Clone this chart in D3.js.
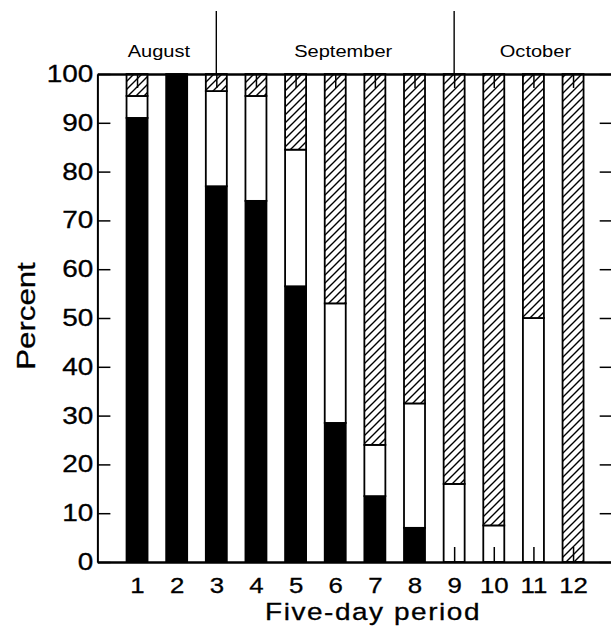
<!DOCTYPE html>
<html lang="en">
<head>
<meta charset="utf-8">
<style>
  body { margin: 0; background: white; }
  svg { font-family: 'Liberation Sans', Arial, Helvetica, sans-serif; }
  .axis path, .axis line { stroke: black; }
  .axis text { fill: black; }
  text { stroke: black; stroke-width: 0.3; }
  text.month { stroke: none; }
</style>
</head>
<body>
<svg width="611" height="641"></svg>
<script src="https://d3js.org/d3.v7.min.js"></script>
<script>
// five-day periods and the share of each class per period (percent)
const periods = [1, 2, 3, 4, 5, 6, 7, 8, 9, 10, 11, 12]
const blackPct = [91, 100, 77, 74, 56.5, 28.5, 13.5, 7, 0, 0, 0, 0]
const whitePct = [4.5, 0, 19.5, 21.5, 28, 24.5, 10.5, 25.5, 16, 7.5, 50, 0]
const hatchPct = [4.5, 0, 3.5, 4.5, 15.5, 47, 76, 67.5, 84, 92.5, 50, 100]

// month spans along the period axis
const monthNames = ["August", "September", "October"]
const monthStart = [0, 3, 9]
const monthEnd = [3, 9, 13]

const yTicks = [0, 10, 20, 30, 40, 50, 60, 70, 80, 90, 100]

const plotLeft = 97.4, plotRight = 612.7, plotTop = 74, plotBottom = 562
const sx = 1.2   // the original typeface is set wider than Helvetica

const svg = d3.select("svg")

const defs = svg.append("defs")
const pat = defs.append("pattern")
  .attr("id", "hatch")
  .attr("patternUnits", "userSpaceOnUse")
  .attr("width", 8).attr("height", 8)
pat.append("rect").attr("width", 8).attr("height", 8).attr("fill", "white")
pat.append("path")
  .attr("d", "M-1,1 L1,-1 M0,8 L8,0 M7,9 L9,7")
  .attr("stroke", "black").attr("stroke-width", 1.4)

const x = d3.scaleLinear().domain([0, 13]).range([plotLeft, plotRight])
const y = d3.scaleLinear().domain([0, 100]).range([plotBottom, plotTop])

const rows = periods.map((p, i) => ({ period: p, black: blackPct[i], white: whitePct[i], hatch: hatchPct[i] }))
const stack = d3.stack().keys(["black", "white", "hatch"])(rows)
const fills = { black: "black", white: "white", hatch: "url(#hatch)" }
const barW = 21

stack.forEach(layer => {
  svg.append("g")
    .selectAll("rect")
    .data(layer.filter(d => d[1] - d[0] > 0))
    .join("rect")
    .attr("x", d => x(d.data.period) - barW / 2)
    .attr("width", barW)
    .attr("y", d => y(d[1]))
    .attr("height", d => y(d[0]) - y(d[1]))
    .attr("fill", fills[layer.key])
    .attr("stroke", "black")
    .attr("stroke-width", 1.8)
})

// frame with inward ticks on all four sides
const yAxis = d3.axisLeft(y).tickValues(yTicks).tickSizeInner(-13).tickSizeOuter(0).tickPadding(4)
const gy = svg.append("g").attr("class", "axis")
  .attr("transform", "translate(" + plotLeft + ",0)")
  .call(yAxis)
gy.select(".domain").attr("stroke-width", 2)
gy.selectAll("line").attr("stroke-width", 1.5)
gy.selectAll("text")
  .attr("font-size", 23.3)
  .attr("x", -4 / sx)
  .attr("transform", "scale(" + sx + ",1)")

svg.append("g").attr("class", "axis")
  .attr("transform", "translate(" + plotRight + ",0)")
  .call(d3.axisRight(y).tickValues(yTicks).tickSizeInner(-13).tickSizeOuter(0).tickFormat(""))
  .selectAll("line").attr("stroke-width", 1.5)

const gx = svg.append("g").attr("class", "axis")
  .attr("transform", "translate(0," + plotBottom + ")")
  .call(d3.axisBottom(x).tickValues(periods).tickSizeInner(-15).tickSizeOuter(0).tickPadding(16))
gx.select(".domain").attr("stroke-width", 2.5)
gx.selectAll("line").attr("stroke-width", 1.5)
gx.selectAll("text")
  .attr("font-size", 21.5)
  .attr("transform", "scale(" + sx + ",1)")

const gt = svg.append("g").attr("class", "axis")
  .attr("transform", "translate(0," + plotTop + ")")
  .call(d3.axisTop(x).tickValues(periods).tickSizeInner(-14).tickSizeOuter(0).tickFormat(""))
gt.select(".domain").attr("stroke-width", 2.5)
gt.selectAll("line").attr("stroke-width", 1.5)

// month separators and labels above the frame
svg.append("g")
  .selectAll("line")
  .data(monthStart.slice(1))
  .join("line")
  .attr("x1", d => x(d)).attr("x2", d => x(d))
  .attr("y1", 11).attr("y2", plotTop)
  .attr("stroke", "black").attr("stroke-width", 1.4)

svg.append("g")
  .selectAll("text")
  .data(monthNames)
  .join("text")
  .attr("class", "month")
  .attr("text-anchor", "middle")
  .attr("font-size", 17)
  .attr("transform", (d, i) => "translate(" + (x((monthStart[i] + monthEnd[i]) / 2) + (i === 1 ? 8 : 2)) + ",57) scale(1.18,1)")
  .text(d => d)

svg.append("text")
  .attr("text-anchor", "middle")
  .attr("font-size", 23.3)
  .attr("letter-spacing", 1.3)
  .attr("transform", "translate(373,620) scale(" + sx + ",1)")
  .text("Five-day period")

svg.append("text")
  .attr("text-anchor", "middle")
  .attr("font-size", 26)
  .attr("transform", "translate(35,316) rotate(-90) scale(" + sx + ",1)")
  .text("Percent")
</script>
</body>
</html>
